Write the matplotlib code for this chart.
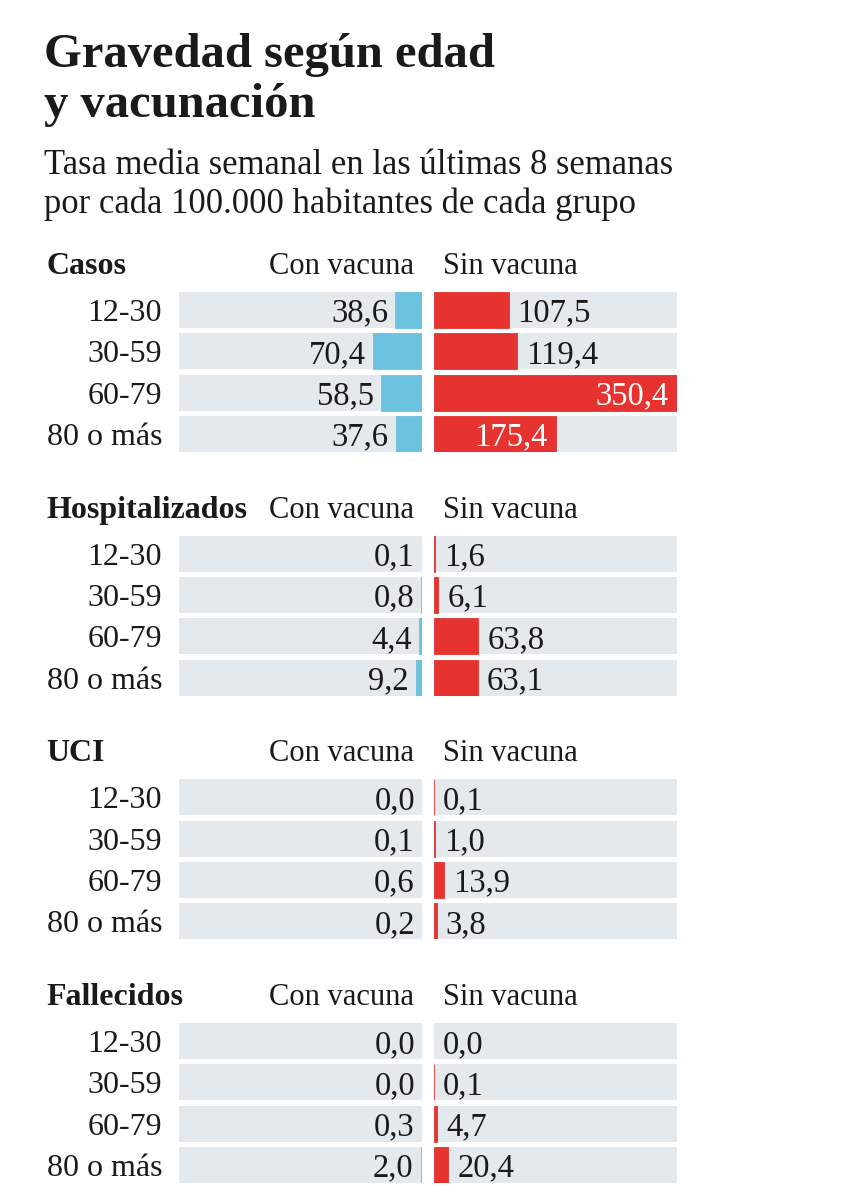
import matplotlib.pyplot as plt
import matplotlib.transforms as mtransforms

# Data (rate per 100,000, weekly mean of last 8 weeks)
groups = ["12-30", "30-59", "60-79", "80 o más"]
panels = ["Casos", "Hospitalizados", "UCI", "Fallecidos"]
casos_con = [38.6, 70.4, 58.5, 37.6]
casos_sin = [107.5, 119.4, 350.4, 175.4]
hosp_con = [0.1, 0.8, 4.4, 9.2]
hosp_sin = [1.6, 6.1, 63.8, 63.1]
uci_con = [0.0, 0.1, 0.6, 0.2]
uci_sin = [0.1, 1.0, 13.9, 3.8]
fall_con = [0.0, 0.0, 0.3, 2.0]
fall_sin = [0.0, 0.1, 4.7, 20.4]

con_values = [casos_con, hosp_con, uci_con, fall_con]
sin_values = [casos_sin, hosp_sin, uci_sin, fall_sin]

# Colours
BLUE = "#6cc3df"
RED = "#e6332f"
GREY = "#e4e9ed"
INK = "#1a1a1a"
FONT = "Liberation Serif"
ROW_FS = 23.5

W, H = 847, 1200
fig = plt.figure(figsize=(W / 100, H / 100), dpi=100)
fig.patch.set_facecolor("white")


def fx(px):
    return px / W


def fy(py):
    return 1 - py / H


def fmt(v):
    return f"{v:.1f}".replace(".", ",")


# title + subtitle
fig.text(fx(44), fy(67), "Gravedad según edad", fontsize=35, fontweight="bold",
         family=FONT, color=INK, va="baseline")
fig.text(fx(44), fy(117), "y vacunación", fontsize=35, fontweight="bold",
         family=FONT, color=INK, va="baseline")
fig.text(fx(44), fy(174), "Tasa media semanal en las últimas 8 semanas",
         fontsize=24.9, family=FONT, color=INK, va="baseline")
fig.text(fx(44), fy(213), "por cada 100.000 habitantes de cada grupo",
         fontsize=24.9, family=FONT, color=INK, va="baseline")

# layout in pixels
row_pitch = 41.3
bar_px = 36
panel_top0 = 292
panel_pitch = 243.7
left_x0, left_x1 = 179, 422
right_x0, right_x1 = 434, 677
panel_h = 3 * row_pitch + bar_px
bh = bar_px / row_pitch

xmax = max(max(s) for s in sin_values + con_values)
rows = list(range(len(groups)))

for p, name in enumerate(panels):
    top = panel_top0 + p * panel_pitch
    rect_y = fy(top + panel_h)

    ax_l = fig.add_axes([fx(left_x0), rect_y, fx(left_x1 - left_x0), panel_h / H])
    ax_r = fig.add_axes([fx(right_x0), rect_y, fx(right_x1 - right_x0), panel_h / H])

    for ax in (ax_l, ax_r):
        ax.set_xlim(0, xmax)
        ax.set_ylim(len(groups) - 1 + bh / 2, -bh / 2)
        ax.axis("off")
        ax.barh(rows, [xmax] * len(rows), height=bh, color=GREY, zorder=1)
    ax_l.invert_xaxis()

    cons = con_values[p]
    sins = sin_values[p]

    for i, v in enumerate(cons):
        if v > 0:
            ax_l.barh(i, v, height=bh, color=BLUE, edgecolor=BLUE, linewidth=0.6, zorder=2)
        ax_l.annotate(fmt(v), xy=(v, i), xytext=(-5, 0), textcoords="offset points",
                      ha="right", va="center_baseline", fontsize=ROW_FS, family=FONT,
                      color=INK, zorder=3)

    for i, v in enumerate(sins):
        if v > 0:
            ax_r.barh(i, v, height=bh, color=RED, edgecolor=RED, linewidth=0.6, zorder=2)
        if v > 150:
            ax_r.annotate(fmt(v), xy=(v, i), xytext=(-6, 0), textcoords="offset points",
                          ha="right", va="center_baseline", fontsize=ROW_FS, family=FONT,
                          color="white", zorder=3)
        else:
            ax_r.annotate(fmt(v), xy=(v, i), xytext=(6.5, 0), textcoords="offset points",
                          ha="left", va="center_baseline", fontsize=ROW_FS, family=FONT,
                          color=INK, zorder=3)

    # age group labels
    trans = mtransforms.blended_transform_factory(fig.transFigure, ax_l.transData)
    for i, g in enumerate(groups):
        ax_l.text(fx(162), i, g, transform=trans, ha="right", va="center_baseline",
                  fontsize=23, family=FONT, color=INK)

    # panel header
    hy = fy(top - 18)
    fig.text(fx(46), hy, name, fontsize=23, fontweight="bold", family=FONT,
             color=INK, va="baseline")
    fig.text(fx(414), hy, "Con vacuna", fontsize=22, family=FONT, color=INK,
             ha="right", va="baseline")
    fig.text(fx(443), hy, "Sin vacuna", fontsize=22, family=FONT, color=INK,
             ha="left", va="baseline")

fig.savefig("out.png", dpi=100, facecolor="white")
